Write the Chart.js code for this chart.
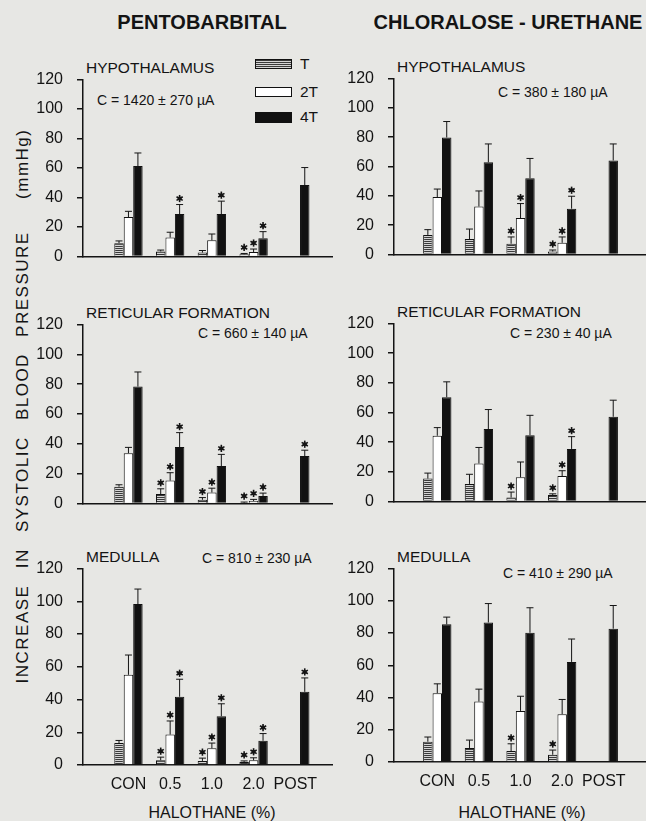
<!DOCTYPE html>
<html>
<head>
<meta charset="utf-8">
<script src="https://cdn.jsdelivr.net/npm/chart.js@4.4.0/dist/chart.umd.min.js"></script>
<style>
  body { margin: 0; width: 646px; height: 821px; overflow: hidden; position: relative;
         background: #e7e7e4; font-family: "Liberation Sans", Arial, sans-serif; color: #141414; }
  canvas { position: absolute; }
  .t { position: absolute; white-space: nowrap; line-height: 1; transform: translateY(-50%); }
  .c { transform: translate(-50%, -50%); }
  .title { font-size: 20px; font-weight: bold; }
  .region { font-size: 15.5px; }
  .cur { font-size: 14px; }
  .xt { font-size: 16px; }
  .box { position: absolute; width: 37px; height: 10px; border: 1px solid #111; box-sizing: border-box; }
  .ylab { font-size: 17px; letter-spacing: 1.5px; word-spacing: 10px;
          transform: translate(-50%, -50%) rotate(-90deg); }
</style>
</head>
<body>

<div class="t c title" style="left:202px; top:22px;">PENTOBARBITAL</div>
<div class="t c title" style="left:508px; top:22px;">CHLORALOSE - URETHANE</div>

<div class="t ylab" style="left:22px; top:406px;">INCREASE IN SYSTOLIC BLOOD PRESSURE &nbsp;(mmHg)</div>

<div class="t region" style="left:86px; top:68px;">HYPOTHALAMUS</div>
<div class="t region" style="left:397px; top:67px;">HYPOTHALAMUS</div>
<div class="t region" style="left:86px; top:313px;">RETICULAR FORMATION</div>
<div class="t region" style="left:397px; top:312px;">RETICULAR FORMATION</div>
<div class="t region" style="left:86px; top:557px;">MEDULLA</div>
<div class="t region" style="left:397px; top:557px;">MEDULLA</div>

<div class="t cur" style="left:97px; top:100px;">C = 1420 ± 270 µA</div>
<div class="t cur" style="left:498px; top:92px;">C = 380 ± 180 µA</div>
<div class="t cur" style="left:198px; top:333px;">C = 660 ± 140 µA</div>
<div class="t cur" style="left:510px; top:333px;">C = 230 ± 40 µA</div>
<div class="t cur" style="left:202px; top:558px;">C = 810 ± 230 µA</div>
<div class="t cur" style="left:503px; top:573px;">C = 410 ± 290 µA</div>

<div class="box" style="left:255px; top:59px; background: repeating-linear-gradient(to bottom, #3a3a3a 0 1px, #d4d4d4 1px 2px);"></div>
<div class="box" style="left:255px; top:87px; background:#fff;"></div>
<div class="box" style="left:255px; top:112px; height:11px; background:#111;"></div>
<div class="t region" style="left:300px; top:64px;">T</div>
<div class="t region" style="left:300px; top:92px;">2T</div>
<div class="t region" style="left:300px; top:117px;">4T</div>

<div class="t c xt" style="left:212px; top:813px;">HALOTHANE (%)</div>
<div class="t c xt" style="left:522px; top:813px;">HALOTHANE (%)</div>

<script>
const groups = ['CON', '0.5', '1.0', '2.0', 'POST'];
const yTicks = [0, 20, 40, 60, 80, 100, 120];
const stimLabels = ['T', '2T', '4T'];

// pentobarbital - hypothalamus
const pentoHypoT = [9, 3.4, 2.6, 1.4, null];
const pentoHypoTErr = [1.5, 0.9, 1.4, 0.6, null];
const pentoHypoTStar = [0, 0, 0, 1, 0];
const pentoHypo2T = [26.7, 12.8, 10.9, 3.0, null];
const pentoHypo2TErr = [3.9, 3.6, 4.3, 2.0, null];
const pentoHypo2TStar = [0, 0, 0, 1, 0];
const pentoHypo4T = [61.3, 28.7, 28.7, 12.3, 48.4];
const pentoHypo4TErr = [8.9, 6.5, 8.8, 4.5, 11.9];
const pentoHypo4TStar = [0, 1, 1, 1, 0];

// chloralose-urethane - hypothalamus
const chloHypoT = [13.3, 10.5, 7.3, 2.0, null];
const chloHypoTErr = [3.6, 6.8, 4.6, 1.0, null];
const chloHypoTStar = [0, 0, 1, 1, 0];
const chloHypo2T = [39.1, 32.7, 24.8, 7.9, null];
const chloHypo2TErr = [5.5, 10.6, 9.9, 4.0, null];
const chloHypo2TStar = [0, 0, 1, 1, 0];
const chloHypo4T = [79.8, 62.9, 52.0, 31.2, 64.1];
const chloHypo4TErr = [10.9, 12.5, 13.5, 8.5, 11.3];
const chloHypo4TStar = [0, 0, 0, 1, 0];

// pentobarbital - reticular formation
const pentoRetT = [11.2, 6.3, 2.4, 0.4, null];
const pentoRetTErr = [1.3, 3.5, 1.5, 0.5, null];
const pentoRetTStar = [0, 1, 1, 1, 0];
const pentoRet2T = [33.7, 15.3, 7.3, 1.6, null];
const pentoRet2TErr = [3.9, 5.3, 2.9, 1.1, null];
const pentoRet2TStar = [0, 1, 1, 1, 0];
const pentoRet4T = [78.4, 37.8, 25.1, 4.9, 31.8];
const pentoRet4TErr = [9.8, 9.7, 7.8, 2.0, 3.9];
const pentoRet4TStar = [0, 1, 1, 1, 1];

// chloralose-urethane - reticular formation
const chloRetT = [15.4, 11.8, 2.6, 4.3, null];
const chloRetTErr = [3.7, 6.5, 3.7, 0.8, null];
const chloRetTStar = [0, 0, 1, 1, 0];
const chloRet2T = [44.3, 25.6, 16.3, 17.1, null];
const chloRet2TErr = [5.5, 10.8, 10.3, 3.6, null];
const chloRet2TStar = [0, 0, 0, 1, 0];
const chloRet4T = [70.3, 48.8, 44.7, 35.4, 57.1];
const chloRet4TErr = [10.4, 13.2, 13.4, 8.3, 11.2];
const chloRet4TStar = [0, 0, 0, 1, 0];

// pentobarbital - medulla
const pentoMedT = [13.4, 2.9, 2.5, 1.9, null];
const pentoMedTErr = [1.6, 1.9, 1.7, 0.6, null];
const pentoMedTStar = [0, 1, 1, 1, 0];
const pentoMed2T = [55.1, 18.6, 10.2, 2.9, null];
const pentoMed2TErr = [12.1, 8.3, 3.2, 1.5, null];
const pentoMed2TStar = [0, 1, 1, 1, 0];
const pentoMed4T = [98.3, 41.7, 29.8, 14.8, 44.7];
const pentoMed4TErr = [9.2, 10.7, 7.6, 4.4, 8.5];
const pentoMed4TStar = [0, 1, 1, 1, 1];

// chloralose-urethane - medulla
const chloMedT = [12.6, 8.7, 6.8, 4.5, null];
const chloMedTErr = [2.9, 4.9, 4.5, 2.9, null];
const chloMedTStar = [0, 0, 1, 1, 0];
const chloMed2T = [42.7, 37.5, 31.7, 29.7, null];
const chloMed2TErr = [5.8, 7.7, 9.1, 9.1, null];
const chloMed2TStar = [0, 0, 0, 0, 0];
const chloMed4T = [85.4, 86.6, 80.2, 62.1, 82.7];
const chloMed4TErr = [4.5, 11.7, 15.5, 14.2, 14.4];
const chloMed4TStar = [0, 0, 0, 0, 0];

const ink = '#141414';
const font = 'Liberation Sans, Arial, sans-serif';

function hatch() {
  const c = document.createElement('canvas');
  c.width = 4; c.height = 2;
  const g = c.getContext('2d');
  g.fillStyle = '#d4d4d4'; g.fillRect(0, 0, 4, 2);
  g.fillStyle = '#3a3a3a'; g.fillRect(0, 0, 4, 1);
  return g.createPattern(c, 'repeat');
}
const fills = [hatch(), '#ffffff', '#111111'];

function drawStar(ctx, x, y) {
  ctx.save();
  ctx.strokeStyle = ink; ctx.fillStyle = ink; ctx.lineWidth = 1.6;
  for (let k = 0; k < 3; k++) {
    const a = Math.PI / 2 + k * Math.PI / 3;
    ctx.beginPath();
    ctx.moveTo(x + 3.6 * Math.cos(a), y + 3.6 * Math.sin(a));
    ctx.lineTo(x - 3.6 * Math.cos(a), y - 3.6 * Math.sin(a));
    ctx.stroke();
  }
  ctx.beginPath(); ctx.arc(x, y, 2, 0, Math.PI * 2); ctx.fill();
  ctx.restore();
}

// upward error bars + significance stars
const errPlugin = {
  id: 'errbars',
  afterDatasetsDraw(chart) {
    const { ctx, scales: { y } } = chart;
    chart.data.datasets.forEach((ds, di) => {
      chart.getDatasetMeta(di).data.forEach((bar, i) => {
        const v = ds.data[i].y;
        if (v == null) return;
        const top = y.getPixelForValue(v + ds.errs[i]);
        ctx.save();
        ctx.strokeStyle = ink; ctx.lineWidth = 1;
        ctx.beginPath();
        ctx.moveTo(bar.x, bar.y); ctx.lineTo(bar.x, top);
        ctx.moveTo(bar.x - 3.5, top); ctx.lineTo(bar.x + 3.5, top);
        ctx.stroke();
        ctx.restore();
        if (ds.stars[i]) drawStar(ctx, bar.x, top - 6);
      });
    });
  }
};

const panels = [
  { x0: 83, x1: 332, y120: 68, y0: 270, min: -0.09, max: 5.88, xLabels: false,
    vals: [pentoHypoT, pentoHypo2T, pentoHypo4T], errs: [pentoHypoTErr, pentoHypo2TErr, pentoHypo4TErr],
    stars: [pentoHypoTStar, pentoHypo2TStar, pentoHypo4TStar] },
  { x0: 394, x1: 645, y120: 67, y0: 268, min: -0.04, max: 5.99, xLabels: false,
    vals: [chloHypoT, chloHypo2T, chloHypo4T], errs: [chloHypoTErr, chloHypo2TErr, chloHypo4TErr],
    stars: [chloHypoTStar, chloHypo2TStar, chloHypo4TStar] },
  { x0: 83, x1: 332, y120: 313, y0: 517, min: -0.09, max: 5.88, xLabels: false,
    vals: [pentoRetT, pentoRet2T, pentoRet4T], errs: [pentoRetTErr, pentoRet2TErr, pentoRet4TErr],
    stars: [pentoRetTStar, pentoRet2TStar, pentoRet4TStar] },
  { x0: 394, x1: 645, y120: 312, y0: 515, min: -0.04, max: 5.99, xLabels: false,
    vals: [chloRetT, chloRet2T, chloRet4T], errs: [chloRetTErr, chloRet2TErr, chloRet4TErr],
    stars: [chloRetTStar, chloRet2TStar, chloRet4TStar] },
  { x0: 83, x1: 332, y120: 557, y0: 765, min: -0.09, max: 5.88, xLabels: true,
    vals: [pentoMedT, pentoMed2T, pentoMed4T], errs: [pentoMedTErr, pentoMed2TErr, pentoMed4TErr],
    stars: [pentoMedTStar, pentoMed2TStar, pentoMed4TStar] },
  { x0: 394, x1: 645, y120: 557, y0: 762, min: -0.04, max: 5.99, xLabels: true,
    vals: [chloMedT, chloMed2T, chloMed4T], errs: [chloMedTErr, chloMed2TErr, chloMed4TErr],
    stars: [chloMedTStar, chloMed2TStar, chloMed4TStar] }
];

function makePanel(p) {
  const padL = 70, padT = 12, padB = 10, padR = 2;
  const xh = p.xLabels ? 32 : 0;
  const w = padL + (p.x1 - p.x0) + padR;
  const h = padT + (p.y0 - p.y120) + padB + xh;
  const cv = document.createElement('canvas');
  cv.width = w; cv.height = h;
  cv.style.left = (p.x0 - padL) + 'px';
  cv.style.top = (p.y120 - padT) + 'px';
  cv.style.width = w + 'px'; cv.style.height = h + 'px';
  document.body.appendChild(cv);

  new Chart(cv, {
    type: 'bar',
    data: {
      datasets: stimLabels.map((name, s) => ({
        label: name,
        data: p.vals[s].map((v, i) => ({ x: i + 1, y: v })),
        errs: p.errs[s],
        stars: p.stars[s],
        backgroundColor: fills[s],
        borderColor: '#111',
        borderWidth: 1,
        categoryPercentage: 0.68,
        barPercentage: 1
      }))
    },
    options: {
      responsive: false,
      animation: false,
      devicePixelRatio: 1,
      layout: { padding: { top: padT, right: padR, bottom: padB, left: 0 } },
      plugins: { legend: { display: false }, tooltip: { enabled: false } },
      scales: {
        x: {
          type: 'linear', min: p.min, max: p.max, offset: false,
          afterBuildTicks: s => { s.ticks = groups.map((g, i) => ({ value: i + 1 })); },
          afterFit: s => { s.height = xh; },
          grid: { drawOnChartArea: false, drawTicks: false },
          border: { color: ink, width: 1.5 },
          ticks: { display: p.xLabels, padding: 10, autoSkip: false, maxRotation: 0,
                   color: ink, font: { family: font, size: 16 },
                   callback: v => groups[v - 1] }
        },
        y: {
          min: 0, max: 120,
          afterBuildTicks: s => { s.ticks = yTicks.map(v => ({ value: v })); },
          afterFit: s => { s.width = padL; },
          grid: { drawOnChartArea: false, drawTicks: true, tickLength: 6, color: ink, lineWidth: 1.5 },
          border: { color: ink, width: 1.5 },
          ticks: { padding: 14, color: ink, font: { family: font, size: 16 } }
        }
      }
    },
    plugins: [errPlugin]
  });
}

panels.forEach(makePanel);
</script>
</body>
</html>
